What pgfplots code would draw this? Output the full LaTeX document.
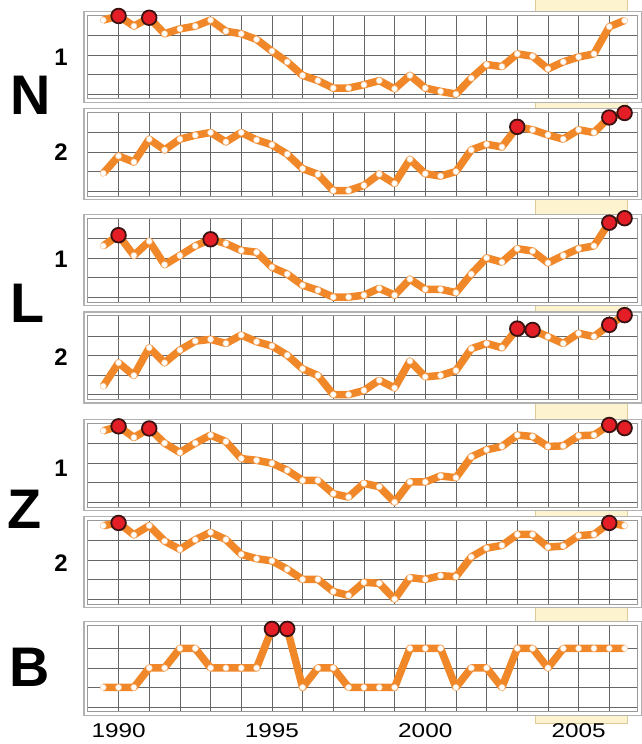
\documentclass[border=0pt]{standalone}
\usepackage{pgfplots}
\pgfplotsset{compat=1.18}
\usepackage{pgfplotstable}
\usepackage{fontspec}
\setmainfont{Liberation Sans}
\usepackage{graphicx}
\definecolor{orng}{HTML}{F0882A}
\definecolor{redm}{HTML}{E41E26}
\definecolor{rededge}{HTML}{3A1212}
\definecolor{bandfill}{HTML}{FDF4CF}
\definecolor{bandline}{HTML}{DCCB98}

\pgfplotstableread{
x      n1   n2   l1   l2   z1   z2   b
1989.5 3.79 0.91 2.62 0.43 3.65 3.76 1
1990.0 4.00 1.80 3.17 1.63 3.88 3.90 1
1990.5 3.48 1.49 2.13 0.98 3.31 3.29 1
1991.0 3.91 2.66 2.86 2.40 3.77 3.76 2
1991.5 3.09 2.11 1.66 1.63 3.02 2.97 2
1992.0 3.34 2.66 2.13 2.28 2.54 2.55 3
1992.5 3.48 2.86 2.62 2.74 3.02 3.04 3
1993.0 3.79 3.00 2.96 2.83 3.43 3.42 2
1993.5 3.22 2.52 2.74 2.62 3.10 3.05 2
1994.0 3.09 3.00 2.39 3.05 2.23 2.29 2
1994.5 2.80 2.62 2.30 2.71 2.14 2.07 2
1995.0 2.20 2.37 1.53 2.49 1.99 1.96 4
1995.5 1.65 1.89 1.18 2.02 1.63 1.53 4
1996.0 0.96 1.15 0.61 1.32 1.11 1.01 1
1996.5 0.69 0.86 0.35 0.98 1.11 1.01 2
1997.0 0.31 0.03 0.00 0.00 0.43 0.39 2
1997.5 0.31 0.03 0.00 0.00 0.26 0.19 1
1998.0 0.48 0.29 0.10 0.21 0.96 0.86 1
1998.5 0.69 0.87 0.45 0.74 0.79 0.81 1
1999.0 0.27 0.39 0.10 0.34 0.00 0.00 1
1999.5 0.96 1.63 0.92 1.72 1.03 1.10 3
2000.0 0.31 0.89 0.40 0.91 1.03 1.01 3
2000.5 0.14 0.77 0.40 0.98 1.34 1.20 3
2001.0 0.00 1.00 0.23 1.23 1.25 1.15 1
2001.5 0.82 2.11 1.18 2.35 2.32 2.16 2
2002.0 1.51 2.40 2.01 2.62 2.68 2.61 2
2002.5 1.41 2.26 1.79 2.40 2.85 2.75 1
2003.0 2.06 3.29 2.48 3.38 3.43 3.31 3
2003.5 1.94 3.14 2.36 3.31 3.36 3.31 3
2004.0 1.29 2.88 1.75 2.97 2.85 2.66 2
2004.5 1.65 2.66 2.13 2.62 2.88 2.72 3
2005.0 1.90 3.14 2.48 3.14 3.40 3.25 3
2005.5 2.06 3.00 2.62 2.97 3.43 3.31 3
2006.0 3.45 3.77 3.81 3.57 3.95 3.90 3
2006.5 3.77 4.00 4.04 4.07 3.79 3.76 3
}\data

\pgfplotsset{
  panel/.style={
    scale only axis, width=549.9bp, height=84bp,
    xmin=1989, xmax=2006.93, ymin=-0.25, ymax=4.05,
    xtick={1990,1991,...,2006}, ytick={0,1,2,3},
    xticklabels={}, yticklabels={},
    grid=major, major grid style={black!60, line width=0.75bp},
    axis line style={gray!80, line width=1bp},
    tick style={draw=none}, clip=false, anchor=north west,
  },
  ser/.style={orng, line width=7.5bp, line join=round, mark=*, mark size=3.1bp,
    mark options={fill=white, draw=orng!50, line width=0.5bp}},
  hot/.style={only marks, mark=*, mark size=7.3bp,
    mark options={fill=redm, draw=rededge, line width=1.8bp}},
}

\begin{document}
\begin{tikzpicture}
\useasboundingbox (0,0) rectangle (642bp,-744bp);

% highlighted period band behind the panels
\begin{axis}[hide axis, scale only axis, width=549.9bp, height=744bp,
  xmin=1989, xmax=2006.93, ymin=-744, ymax=0, clip=false,
  at={(87.9bp,0bp)}, anchor=north west]
\addplot[fill=bandfill, draw=bandline, line width=1bp]
  coordinates {(2003.6,-723) (2006.6,-723) (2006.6,0) (2003.6,0)} -- cycle;
\end{axis}

% ---- N1
\filldraw[fill=white, draw=gray!60, line width=1.1bp] (84bp,-11.5bp) rectangle (641.3bp,-102.5bp);
\begin{axis}[panel, at={(87.9bp,-15bp)}]
\addplot[ser] table[x=x,y=n1]{\data};
\addplot[hot] coordinates {(1990,4.00) (1991,3.91)};
\end{axis}
% ---- N2
\filldraw[fill=white, draw=gray!60, line width=1.1bp] (84bp,-108.5bp) rectangle (641.3bp,-199.5bp);
\begin{axis}[panel, at={(87.9bp,-112bp)}]
\addplot[ser] table[x=x,y=n2]{\data};
\addplot[hot] coordinates {(2003,3.29) (2006,3.77) (2006.5,4.00)};
\end{axis}
% ---- L1
\filldraw[fill=white, draw=gray!60, line width=1.1bp] (84bp,-214.5bp) rectangle (641.3bp,-305.5bp);
\begin{axis}[panel, at={(87.9bp,-218bp)}]
\addplot[ser] table[x=x,y=l1]{\data};
\addplot[hot] coordinates {(1990,3.17) (1993,2.96) (2006,3.81) (2006.5,4.04)};
\end{axis}
% ---- L2
\filldraw[fill=white, draw=gray!60, line width=1.1bp] (84bp,-312bp) rectangle (641.3bp,-403bp);
\begin{axis}[panel, at={(87.9bp,-315.5bp)}]
\addplot[ser] table[x=x,y=l2]{\data};
\addplot[hot] coordinates {(2003,3.38) (2003.5,3.31) (2006,3.57) (2006.5,4.07)};
\end{axis}
% ---- Z1
\filldraw[fill=white, draw=gray!60, line width=1.1bp] (84bp,-419.5bp) rectangle (641.3bp,-510.5bp);
\begin{axis}[panel, at={(87.9bp,-423bp)}]
\addplot[ser] table[x=x,y=z1]{\data};
\addplot[hot] coordinates {(1990,3.88) (1991,3.77) (2006,3.95) (2006.5,3.79)};
\end{axis}
% ---- Z2
\filldraw[fill=white, draw=gray!60, line width=1.1bp] (84bp,-516.5bp) rectangle (641.3bp,-607.5bp);
\begin{axis}[panel, at={(87.9bp,-520bp)}]
\addplot[ser] table[x=x,y=z2]{\data};
\addplot[hot] coordinates {(1990,3.90) (2006,3.90)};
\end{axis}
% ---- B
\filldraw[fill=white, draw=gray!60, line width=1.1bp] (84bp,-621.5bp) rectangle (641.3bp,-715.3bp);
\begin{axis}[panel, at={(87.9bp,-625bp)}, height=86.8bp, ymax=4.2,
  extra x ticks={1990,1995,2000,2005},
  extra x tick labels={\scalebox{1.22}[1]{1990},\scalebox{1.22}[1]{1995},\scalebox{1.22}[1]{2000},\scalebox{1.22}[1]{2005}},
  extra x tick style={grid=none, xticklabel style={font=\fontsize{20}{20}\selectfont, yshift=-8bp}}]
\addplot[ser] table[x=x,y=b]{\data};
\addplot[hot] coordinates {(1995,4) (1995.5,4)};
\end{axis}

% group letters
\begin{scope}[every node/.style={inner sep=0pt}]
\node[font=\bfseries\fontsize{56}{56}\selectfont] at (31bp,-95bp) {N};
\node[font=\bfseries\fontsize{56}{56}\selectfont] at (28bp,-303bp) {L};
\node[font=\bfseries\fontsize{56}{56}\selectfont] at (25bp,-509bp) {Z};
\node[font=\bfseries\fontsize{56}{56}\selectfont] at (30bp,-667bp) {B};
\node[font=\bfseries\fontsize{24}{24}\selectfont] at (61bp,-57bp) {1};
\node[font=\bfseries\fontsize{24}{24}\selectfont] at (61bp,-152bp) {2};
\node[font=\bfseries\fontsize{24}{24}\selectfont] at (61bp,-259bp) {1};
\node[font=\bfseries\fontsize{24}{24}\selectfont] at (61bp,-357bp) {2};
\node[font=\bfseries\fontsize{24}{24}\selectfont] at (61bp,-468bp) {1};
\node[font=\bfseries\fontsize{24}{24}\selectfont] at (61bp,-563bp) {2};
\end{scope}
\end{tikzpicture}
\end{document}
